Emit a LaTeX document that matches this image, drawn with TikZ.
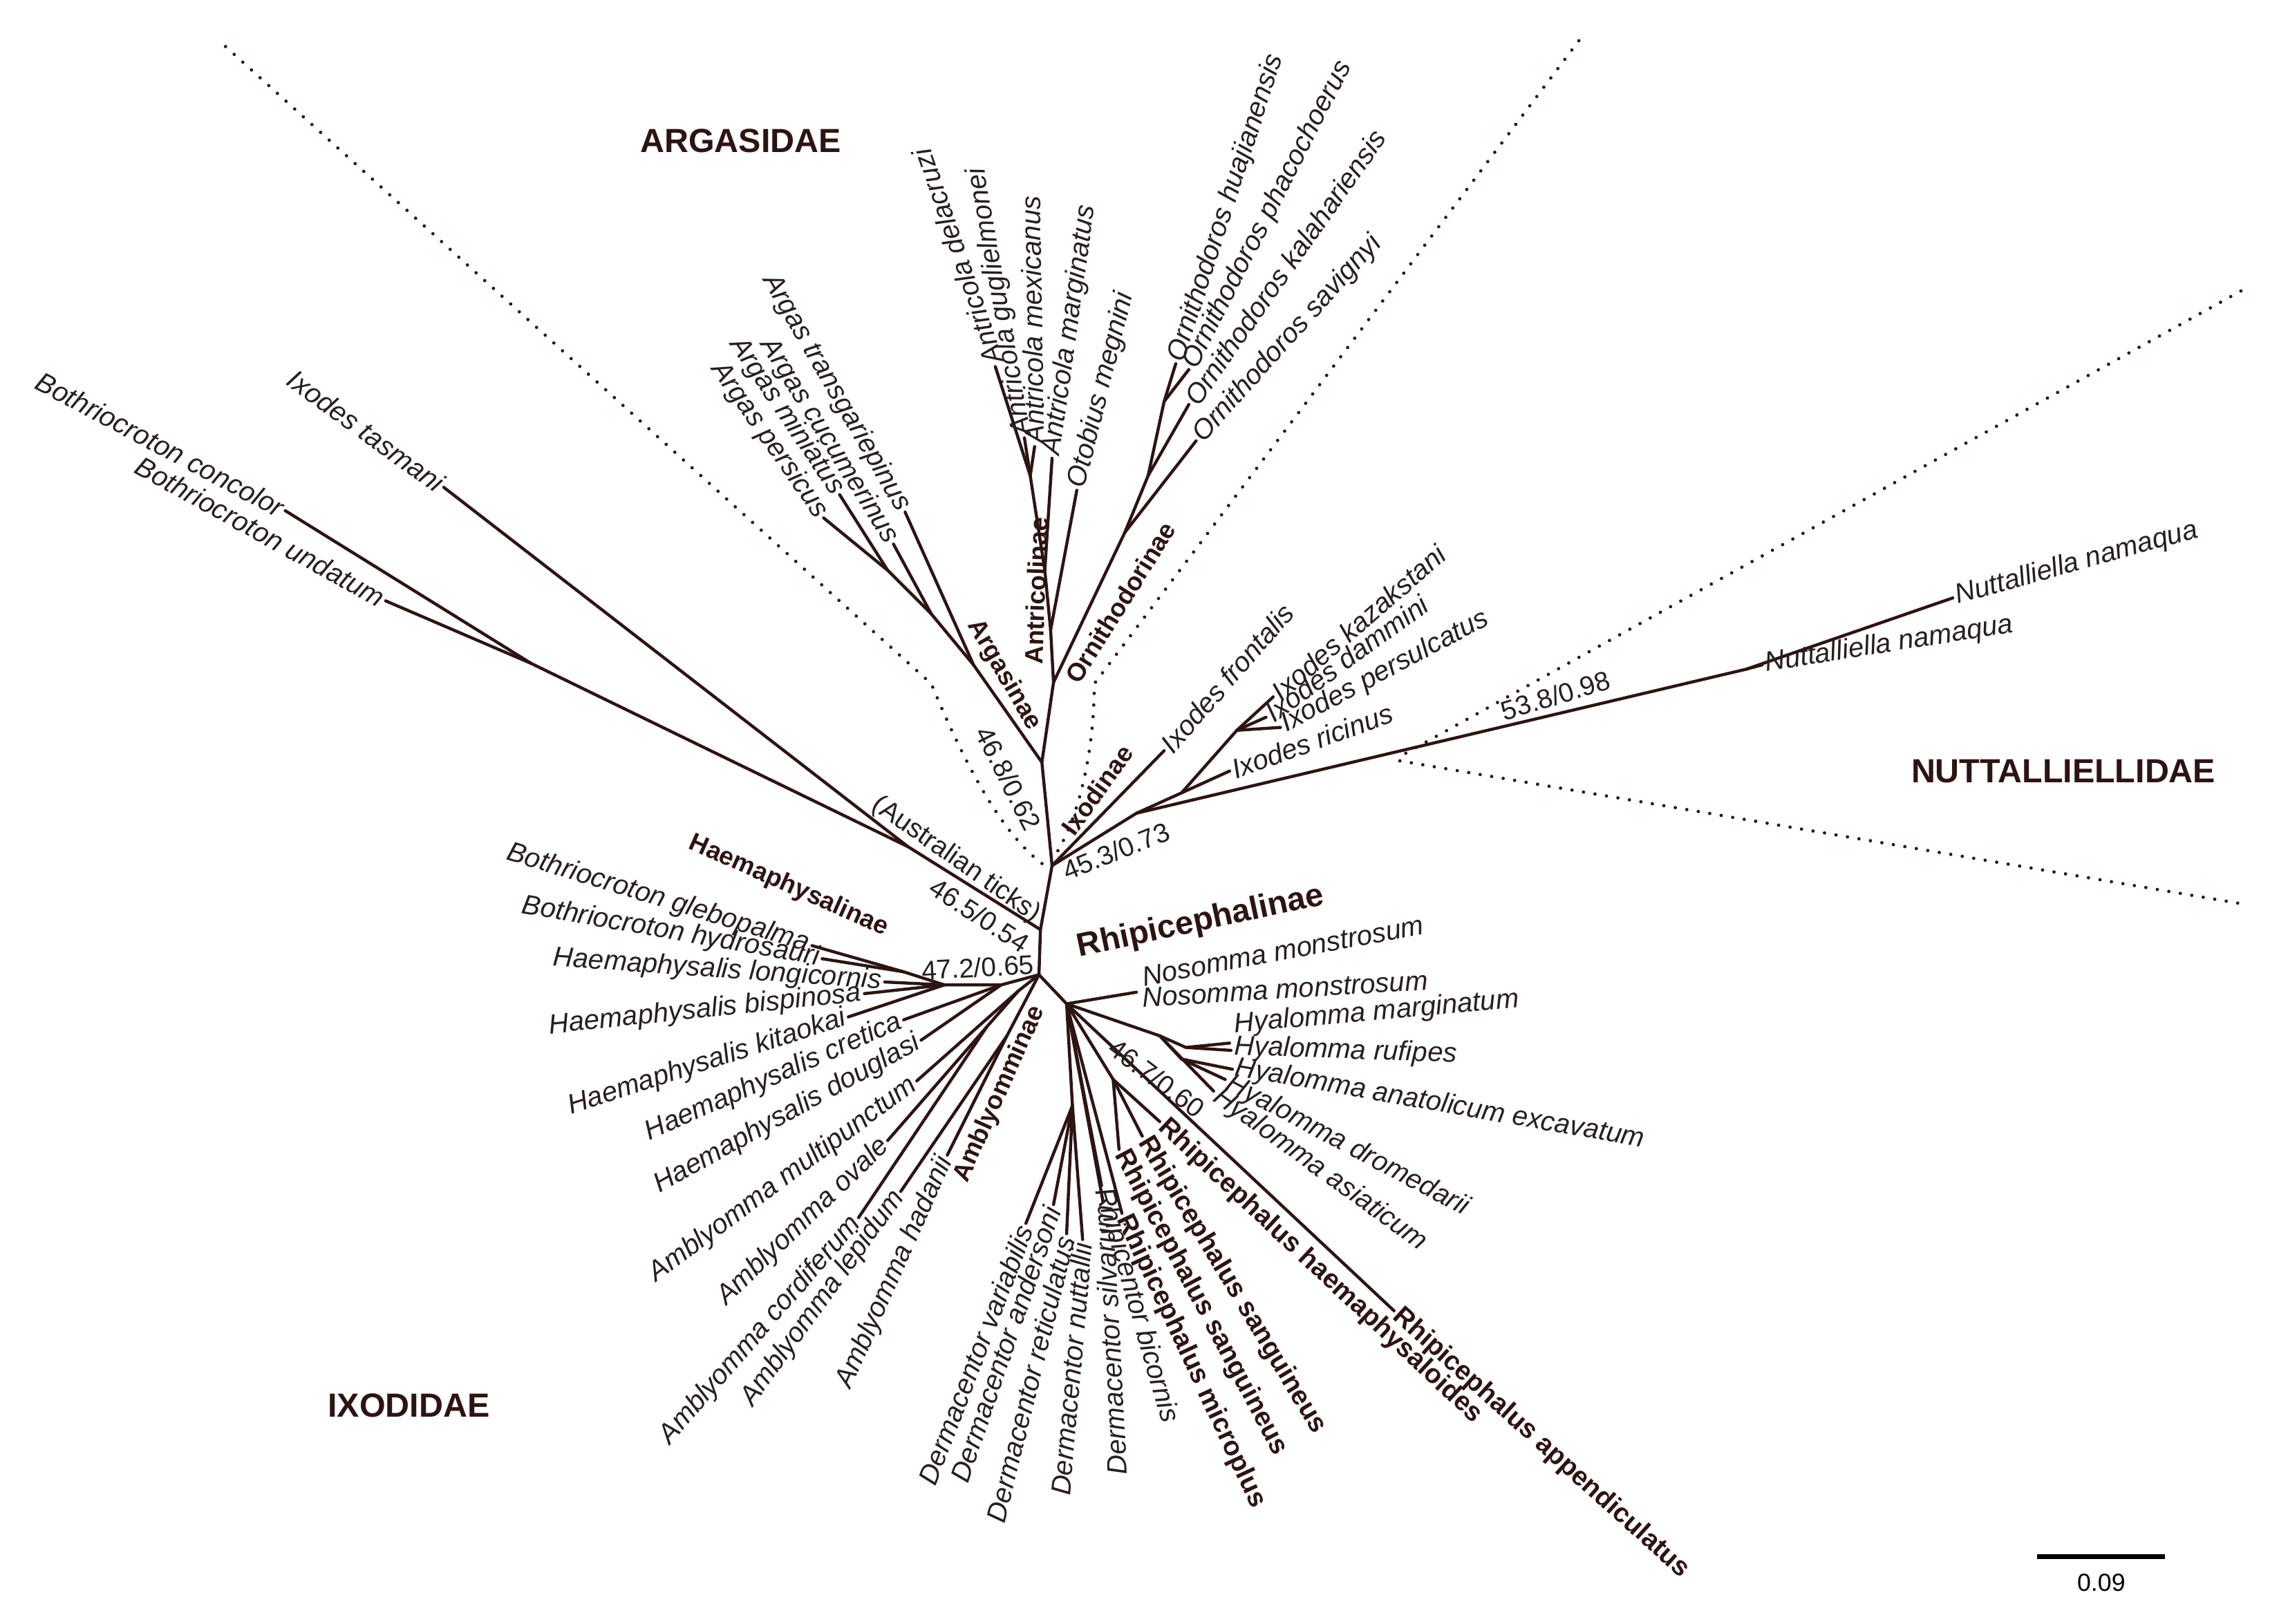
\documentclass[tikz,border=0pt]{standalone}
\usepackage{fontspec}
\setmainfont{Liberation Sans}
\definecolor{brn}{RGB}{45,20,18}
\definecolor{txt}{RGB}{40,30,30}
\begin{document}
\begin{tikzpicture}[x=1bp,y=-1bp,
  br/.style={line width=2.1bp, draw=brn, line cap=round},
  dots/.style={line width=2.3bp, draw=brn, dash pattern=on 0bp off 8bp, line cap=round},
  tip/.style={font=\fontsize{19bp}{21bp}\selectfont\itshape, inner sep=2bp, text=txt},
  btip/.style={font=\fontsize{18.5bp}{21bp}\selectfont\bfseries, inner sep=2bp, text=brn},
  clade/.style={font=\fontsize{17.5bp}{19bp}\selectfont\bfseries, inner sep=0bp, text=brn},
  sup/.style={font=\fontsize{18.5bp}{20bp}\selectfont, inner sep=0bp, text=txt},
  fam/.style={font=\fontsize{23bp}{25bp}\selectfont\bfseries, inner sep=0bp, text=brn}]
\useasboundingbox (0,0) rectangle (1560,1116.3);
% dotted separators
\draw[dots] (155,32) -- (640,470) .. controls (665,530) and (690,575) .. (718,595);
\draw[dots] (1085,28) -- (752,470) .. controls (752,520) and (740,565) .. (725,588);
\draw[dots] (1540,200) -- (962,520);
\draw[dots] (962,523) -- (1545,622);
% backbone coordinates
\coordinate (A0) at (723,595); \coordinate (A1) at (716,524); \coordinate (A2) at (724,469);
\coordinate (H) at (715,639); \coordinate (R0) at (714,670); \coordinate (R1) at (733,690);
% Argasinae
\coordinate (AG1) at (669,457); \coordinate (AG2) at (640,422); \coordinate (AGn) at (610,392);
\coordinate (pers) at (566,356); \coordinate (mini) at (577,340); \coordinate (cucu) at (614,374); \coordinate (trans) at (622,352);
% Antricolinae
\coordinate (AN1) at (722,433); \coordinate (AN2) at (718,392); \coordinate (AN3) at (708,327);
\coordinate (oto) at (740,337); \coordinate (marg) at (723,315); \coordinate (mex) at (711,307); \coordinate (gug) at (704,301); \coordinate (dela) at (684,252);
% Ornithodorinae
\coordinate (OR1) at (773,366); \coordinate (OR2) at (789,327); \coordinate (OR3) at (800,276);
\coordinate (sav) at (822,303); \coordinate (kal) at (817,278); \coordinate (hua) at (808,250); \coordinate (pha) at (817,254);
% Ixodinae + Nuttalliella
\coordinate (IX1) at (781,559); \coordinate (IXa) at (812,545); \coordinate (IXb) at (850,502);
\coordinate (front) at (800,516); \coordinate (ric) at (845,530); \coordinate (kaz) at (875,479); \coordinate (dam) at (870,493); \coordinate (per) at (880,500);
\coordinate (NU1) at (1200,460); \coordinate (nam1) at (1342,411); \coordinate (nam2) at (1211,457);
% Australian ticks
\coordinate (AT) at (624,582); \coordinate (BO) at (365,456);
\coordinate (tas) at (305,335); \coordinate (con) at (196,351); \coordinate (und) at (265,413);
% Haemaphysalinae / Amblyomminae
\coordinate (HM) at (649,677); \coordinate (HB) at (621,668); \coordinate (HX) at (688,677);
\coordinate (glebo) at (558,650); \coordinate (hydro) at (565,659); \coordinate (longi) at (608,675); \coordinate (bisp) at (594,683); \coordinate (kita) at (583,699);
\coordinate (cret) at (621,701); \coordinate (doug) at (633,715);
\coordinate (AM1) at (700,681); \coordinate (AM2) at (678,706); \coordinate (AM3) at (692,712);
\coordinate (multi) at (630,743); \coordinate (ovale) at (610,784); \coordinate (cord) at (590,837); \coordinate (lepid) at (619,819); \coordinate (hada) at (651,794);
% Rhipicephalinae
\coordinate (NO) at (781,682);
\coordinate (HY1) at (797,712); \coordinate (HY2) at (815,720); \coordinate (HY3) at (812,728);
\coordinate (hmarg) at (845,717); \coordinate (hruf) at (846,722); \coordinate (hanat) at (847,735); \coordinate (hdrom) at (842,742); \coordinate (hasia) at (834,750);
\coordinate (app) at (958,901); \coordinate (RH) at (765,742);
\coordinate (rhae) at (797,771); \coordinate (san1) at (785,781); \coordinate (san2) at (769,790); \coordinate (micro) at (771,834);
\coordinate (DE) at (737,760);
\coordinate (vari) at (705,841); \coordinate (ande) at (724,828); \coordinate (reti) at (733,848); \coordinate (nutt) at (744,852); \coordinate (silv) at (758,826); \coordinate (bico) at (757,815);
% branches
\draw[br] (R0) -- (H) -- (A0) -- (A1) -- (A2);
\draw[br] (R0) -- (R1);
\draw[br] (A1) -- (AG1) -- (trans); \draw[br] (AG1) -- (AG2) -- (cucu); \draw[br] (AG2) -- (AGn) -- (pers); \draw[br] (AGn) -- (mini);
\draw[br] (A2) -- (AN1) -- (oto); \draw[br] (AN1) -- (AN2) -- (marg); \draw[br] (AN2) -- (AN3) -- (mex); \draw[br] (AN3) -- (gug); \draw[br] (AN3) -- (dela);
\draw[br] (A2) -- (OR1) -- (sav); \draw[br] (OR1) -- (OR2) -- (kal); \draw[br] (OR2) -- (OR3) -- (hua); \draw[br] (OR3) -- (pha);
\draw[br] (A0) -- (IX1) -- (NU1) -- (nam1); \draw[br] (NU1) -- (nam2);
\draw[br] (A0) -- (front);
\draw[br] (IX1) -- (IXa) -- (ric); \draw[br] (IXa) -- (IXb) -- (kaz); \draw[br] (IXb) -- (dam); \draw[br] (IXb) -- (per);
\draw[br] (H) -- (AT) -- (tas); \draw[br] (AT) -- (BO) -- (con); \draw[br] (BO) -- (und);
\draw[br] (R0) -- (HX) -- (HM) -- (HB) -- (glebo); \draw[br] (HB) -- (hydro);
\draw[br] (HM) -- (longi); \draw[br] (HM) -- (bisp); \draw[br] (HM) -- (kita);
\draw[br] (HX) -- (cret); \draw[br] (HX) -- (doug);
\draw[br] (R0) -- (AM1) -- (multi); \draw[br] (AM1) -- (AM2) -- (ovale); \draw[br] (AM2) -- (cord);
\draw[br] (R0) -- (AM3) -- (lepid); \draw[br] (AM3) -- (hada);
\draw[br] (R1) -- (NO);
\draw[br] (R1) -- (HY1) -- (HY2) -- (hmarg); \draw[br] (HY2) -- (hruf); \draw[br] (HY1) -- (HY3) -- (hanat); \draw[br] (HY3) -- (hdrom); \draw[br] (HY1) -- (hasia);
\draw[br] (R1) -- (app);
\draw[br] (R1) -- (RH) -- (rhae); \draw[br] (RH) -- (san1); \draw[br] (RH) -- (san2); \draw[br] (R1) -- (micro);
\draw[br] (R1) -- (DE) -- (vari); \draw[br] (DE) -- (ande); \draw[br] (DE) -- (reti); \draw[br] (DE) -- (nutt);
\draw[br] (R1) -- (silv); \draw[br] (R1) -- (bico);
% tip labels
\node[tip,anchor=east,rotate=-28] (lcon) at (con) {Bothriocroton concolor};
\node[tip,anchor=east,rotate=-29] (lund) at (und) {Bothriocroton undatum};
\node[tip,anchor=east,rotate=-36] (ltas) at (tas) {Ixodes tasmani};
\node[tip,anchor=east,rotate=-55] (lpers) at (pers) {Argas persicus};
\node[tip,anchor=east,rotate=-56] (lmini) at (mini) {Argas miniatus};
\node[tip,anchor=east,rotate=-58] (lcucu) at (cucu) {Argas cucumerinus};
\node[tip,anchor=east,rotate=-60] (ltrans) at (trans) {Argas transgariepinus};
\node[tip,anchor=west,rotate=109] (ldela) at (dela) {Antricola delacruzi};
\node[tip,anchor=west,rotate=100] (lgug) at (gug) {Antricola guglielmonei};
\node[tip,anchor=west,rotate=91] (lmex) at (mex) {Antricola mexicanus};
\node[tip,anchor=west,rotate=82] (lmarg) at (marg) {Antricola marginatus};
\node[tip,anchor=west,rotate=76] (loto) at (oto) {Otobius megnini};
\node[tip,anchor=west,rotate=72] (lhua) at (hua) {Ornithodoros huajianensis};
\node[tip,anchor=west,rotate=63] (lpha) at (pha) {Ornithodoros phacochoerus};
\node[tip,anchor=west,rotate=55] (lkal) at (kal) {Ornithodoros kalahariensis};
\node[tip,anchor=west,rotate=48] (lsav) at (sav) {Ornithodoros savignyi};
\node[tip,anchor=west,rotate=49] (lfront) at (front) {Ixodes frontalis};
\node[tip,anchor=west,rotate=41] (lkaz) at (kaz) {Ixodes kazakstani};
\node[tip,anchor=west,rotate=36] (ldam) at (dam) {Ixodes dammini};
\node[tip,anchor=west,rotate=28] (lper) at (per) {Ixodes persulcatus};
\node[tip,anchor=west,rotate=20] (lric) at (ric) {Ixodes ricinus};
\node[tip,anchor=west,rotate=15.5] (lnam1) at (nam1) {Nuttalliella namaqua};
\node[tip,anchor=west,rotate=9] (lnam2) at (nam2) {Nuttalliella namaqua};
\node[tip,anchor=east,rotate=-17] (lglebo) at (glebo) {Bothriocroton glebopalma};
\node[tip,anchor=east,rotate=-10] (lhydro) at (hydro) {Bothriocroton hydrosauri};
\node[tip,anchor=east,rotate=-4] (llongi) at (longi) {Haemaphysalis longicornis};
\node[tip,anchor=east,rotate=6] (lbisp) at (bisp) {Haemaphysalis bispinosa};
\node[tip,anchor=east,rotate=18] (lkita) at (kita) {Haemaphysalis kitaokai};
\node[tip,anchor=east,rotate=24] (lcret) at (cret) {Haemaphysalis cretica};
\node[tip,anchor=east,rotate=29] (ldoug) at (doug) {Haemaphysalis douglasi};
\node[tip,anchor=east,rotate=36.5] (lmulti) at (multi) {Amblyomma multipunctum};
\node[tip,anchor=east,rotate=44] (lovale) at (ovale) {Amblyomma ovale};
\node[tip,anchor=east,rotate=49] (lcord) at (cord) {Amblyomma cordiferum};
\node[tip,anchor=east,rotate=54] (llepid) at (lepid) {Amblyomma lepidum};
\node[tip,anchor=east,rotate=66] (lhada) at (hada) {Amblyomma hadanii};
\node[tip,anchor=east,rotate=69] (lvari) at (vari) {Dermacentor variabilis};
\node[tip,anchor=east,rotate=71] (lande) at (ande) {Dermacentor andersoni};
\node[tip,anchor=east,rotate=76] (lreti) at (reti) {Dermacentor reticulatus};
\node[tip,anchor=east,rotate=85] (lnutt) at (nutt) {Dermacentor nuttallii};
\node[tip,anchor=east,rotate=93] (lsilv) at (silv) {Dermacentor silvarum};
\node[tip,anchor=west,rotate=-74] (lbico) at (bico) {Rhipicentor bicornis};
\node[btip,anchor=west,rotate=-65] (lmicro) at (micro) {Rhipicephalus microplus};
\node[btip,anchor=west,rotate=-62] (lsan2) at (san2) {Rhipicephalus sanguineus};
\node[btip,anchor=west,rotate=-59] (lsan1) at (san1) {Rhipicephalus sanguineus};
\node[btip,anchor=west,rotate=-43] (lrhae) at (rhae) {Rhipicephalus haemaphysaloides};
\node[btip,anchor=west,rotate=-42] (lapp) at (app) {Rhipicephalus appendiculatus};
\node[tip,anchor=west,rotate=10.6] (lno1) at (783,672) {Nosomma monstrosum};
\node[tip,anchor=west,rotate=3.5] (lno2) at (783,686) {Nosomma monstrosum};
\node[tip,anchor=west,rotate=5] (lhmarg) at (846,705) {Hyalomma marginatum};
\node[tip,anchor=west,rotate=-2] (lhruf) at (846,720) {Hyalomma rufipes};
\node[tip,anchor=west,rotate=-10] (lhanat) at (847,734) {Hyalomma anatolicum excavatum};
\node[tip,anchor=west,rotate=-28] (lhdrom) at (842,743) {Hyalomma dromedarii};
\node[tip,anchor=west,rotate=-36] (lhasia) at (834,751) {Hyalomma asiaticum};
% clade labels
\node[clade,rotate=-60] (cArg) at (690,464) {Argasinae};
\node[clade,rotate=88] (cAnt) at (712,406) {Antricolinae};
\node[clade,rotate=58] (cOrn) at (770,414) {Ornithodorinae};
\node[clade,rotate=54] (cIxo) at (754,543) {Ixodinae};
\node[clade,rotate=-24] (cHae) at (542,609) {Haemaphysalinae};
\node[clade,rotate=66] (cAmb) at (687,752) {Amblyomminae};
\node[fam,font=\fontsize{22.5bp}{24bp}\selectfont\bfseries,rotate=12] (cRhi) at (825,634) {Rhipicephalinae};
\node[sup,rotate=-35] (aus) at (657,591) {(Australian ticks)};
% supports
\node[sup,rotate=-33] (s1) at (673,629) {46.5/0.54};
\node[sup,rotate=3] (s2) at (672,665) {47.2/0.65};
\node[sup,rotate=22] (s3) at (767,585) {45.3/0.73};
\node[sup,rotate=-63] (s4) at (693,535) {46.8/0.62};
\node[sup,rotate=-37] (s5) at (795,741) {46.7/0.60};
\node[sup,rotate=17] (s6) at (1069,478) {53.8/0.98};
% families
\node[fam] (fArg) at (509,97) {ARGASIDAE};
\node[fam] (fIxo) at (281,966) {IXODIDAE};
\node[fam] (fNut) at (1418,530) {NUTTALLIELLIDAE};
% scale bar
\coordinate (sb1) at (1400,1070); \coordinate (sb2) at (1488,1070);
\draw[line width=3.5bp, draw=black] (sb1) -- (sb2);
\node[sup,text=black,font=\fontsize{17bp}{19bp}\selectfont] (sbl) at (1444,1088) {0.09};
\end{tikzpicture}
\end{document}
